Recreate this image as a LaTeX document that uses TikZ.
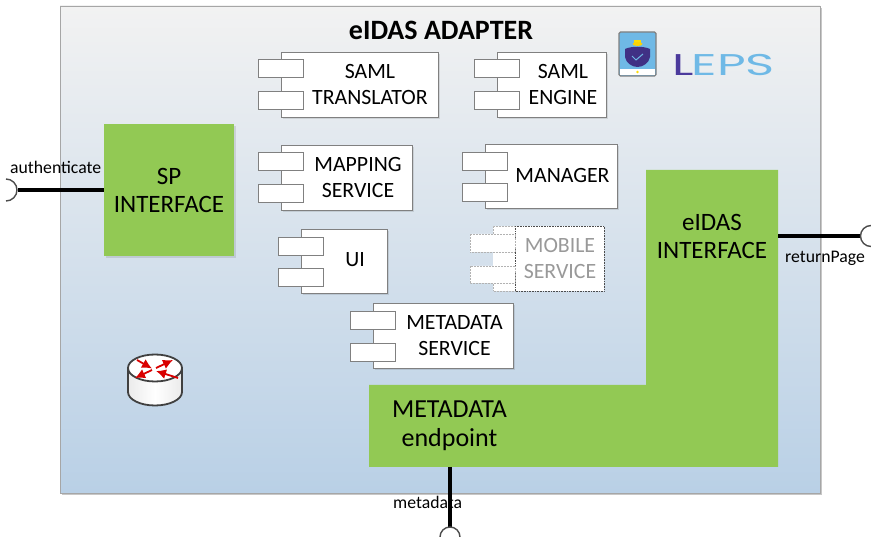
\documentclass[tikz,border=0pt]{standalone}
\usepackage{fontspec}
\usepackage{graphicx}
\setmainfont{Carlito}
\newfontfamily\logofont{Poppins}
\usetikzlibrary{arrows.meta}
\definecolor{grn}{HTML}{92C954}
\definecolor{lepsb}{HTML}{6FB9E6}
\definecolor{lepsi}{HTML}{4B3A9C}
\definecolor{framet}{HTML}{F2F2F2}
\definecolor{framem}{HTML}{DCE5EE}
\definecolor{frameb}{HTML}{B9D0E6}
\tikzset{
  x=1pt,y=-1pt,
  softshadow/.style={fill=black,opacity=.1},
  green box/.style={fill=grn,draw=none,align=center,font=\fontsize{25}{28}\selectfont},
  compo/.style={draw=black!50,line width=.6pt,fill=white},
  compotext/.style={align=center,font=\fontsize{21.8}{26}\selectfont,inner sep=0pt},
  conn/.style={line width=4.6pt,black},
  socket/.style={draw=black!70,line width=1.4pt},
  lbl/.style={font=\fontsize{17.7}{20}\selectfont,inner sep=0pt},
  mobdots/.style={black!70,densely dotted,line width=.6pt},
  mobport/.style={black!30,densely dotted,line width=.5pt},
  redarrow/.style={red!85!black,line width=1.8pt,-{Latex[length=10pt,width=10pt]}},
}
% #1 left, #2 right, #3 top, #4 bottom, #5 port1 top, #6 port2 top
\newcommand{\compobox}[6]{%
  \fill[softshadow] (#1+2,#3+2) rectangle (#2+2,#4+2);
  \path[compo] (#1,#3) rectangle (#2,#4);
  \path[compo] (#1-23,#5) rectangle (#1+22,#5+18);
  \path[compo] (#1-23,#6) rectangle (#1+22,#6+18);
}
\begin{document}
\begin{tikzpicture}
\useasboundingbox (0,0) rectangle (871,537);
\fill[white] (0,0) rectangle (871,537);
% frame
\fill[black!22] (62,8) rectangle (822,495);
\shade[top color=framet,middle color=framem,bottom color=frameb] (60,6) rectangle (820,493);
\draw[black!35,line width=.7pt] (60,6) rectangle (820,493);
\node[font=\bfseries\fontsize{28}{30}\selectfont,inner sep=0pt] (title) at (441,30) {eIDAS ADAPTER};
% components
\compobox{281}{438}{52}{117}{59}{91}
\node[compotext] (saml1) at (370,84.5) {SAML\\TRANSLATOR};
\compobox{497}{606}{52}{117}{59}{91}
\node[compotext] (saml2) at (563,84.5) {SAML\\ENGINE};
\compobox{281}{412}{145}{210}{152}{184}
\node[compotext] (mapping) at (358,177.5) {MAPPING\\SERVICE};
\compobox{485}{617}{144}{208}{152}{183}
\node[compotext] (manager) at (562.5,175.5) {MANAGER};
\compobox{301}{387}{229}{293}{237}{268}
\node[compotext] (ui) at (355,260) {UI};
% mobile service (dotted)
\fill[white] (493,226) rectangle (604,291);
\draw[mobdots] (515,226) -- (604,226) -- (604,291) -- (515,291) -- cycle;
\draw[mobport] (493,234) -- (493,226) -- (515,226) (493,284) -- (493,291) -- (515,291);
\draw[mobport,fill=white] (470,234) rectangle (515,252) (470,266) rectangle (515,283);
\node[compotext,text=black!40] (mobile) at (560,258.5) {MOBILE\\SERVICE};
\compobox{373}{513}{303}{368}{311}{343}
\node[compotext] (metasvc) at (454.5,335.5) {METADATA\\SERVICE};
% green
\fill[softshadow] (106,126) rectangle (236,258);
\node[green box,minimum width=130pt,minimum height=132pt,inner sep=0pt] (sp) at (169,190) {SP\\INTERFACE};
\fill[grn] (646,170) -- (778,170) -- (778,467) -- (369,467) -- (369,385) -- (646,385) -- cycle;
\coordinate (eidasr) at (778,236);
\coordinate (metab) at (450,467);
\node[align=center,font=\fontsize{25}{28}\selectfont,inner sep=0pt] (eidas) at (712,236) {eIDAS\\INTERFACE};
\node[align=center,anchor=center,font=\fontsize{26}{29.5}\selectfont,inner sep=0pt] (metaend) at (449.5,426) {METADATA\\endpoint};
% connectors
\coordinate (sockl) at (18,190);
\coordinate (sockr) at (861,236);
\coordinate (sockb) at (450,527);
\draw[conn] (sockl) -- (sp.west |- sockl);
\draw[conn] (eidasr) -- (sockr);
\draw[conn] (metab) -- (sockb);
\draw[socket] (6,179) arc (-90:90:11);
\draw[socket] (871,225.5) arc (-90:-270:10.5);
\draw[socket] (440,537) arc (180:360:10);
\node[lbl,anchor=west] (lauth) at (10,167) {authenticate};
\node[lbl,anchor=west] (lret) at (785,258) {returnPage};
\node[lbl,anchor=west] (lmeta) at (393,502) {metadata};
% router
\path[draw=black!75,line width=1.8pt,left color=black!8,right color=black!8,middle color=white] (128,368) -- (128,392) arc[start angle=180,end angle=0,x radius=27,y radius=13.5] -- (182,368) -- cycle;
\path[draw=black!75,line width=1.8pt,fill=white] (155,368) ellipse[x radius=27,y radius=13.5];
\draw[redarrow] (152,370) -- (135,378);
\draw[redarrow] (156,368) -- (173,360);
\draw[redarrow] (137,360) -- (152,368.5);
\draw[redarrow] (178,378) -- (156,371);
% badge
\draw[black!50,line width=1.4pt,rounded corners=1.5pt,fill=lepsb] (619,32) rectangle (656,76);
\fill[white] (620,69) rectangle (655,75.3);
\fill[yellow!80!orange] (637.5,72) circle (1.3);
\fill[yellow!80!orange] (634,40.5) rectangle (641,43.5);
\fill[yellow!70!orange] (637.5,44) ellipse[x radius=5,y radius=2];
\fill[lepsi!85!black] (625,49) .. controls (631,46) and (644,46) .. (650,49) -- (650,57) .. controls (649,63) and (643,67) .. (637.5,67) .. controls (632,67) and (626,63) .. (625,57) -- cycle;
\draw[lepsb,line width=1pt] (632,56) -- (636,60) -- (643,54);
% LEPS
\node[inner sep=0pt,anchor=base west,font=\logofont\fontsize{30}{30}\selectfont] (leps) at (672,76) {\scalebox{1.65}[1]{\textcolor{lepsi}{L}\hspace{-1pt}\textcolor{lepsb}{EPS}}};
\end{tikzpicture}
\end{document}
